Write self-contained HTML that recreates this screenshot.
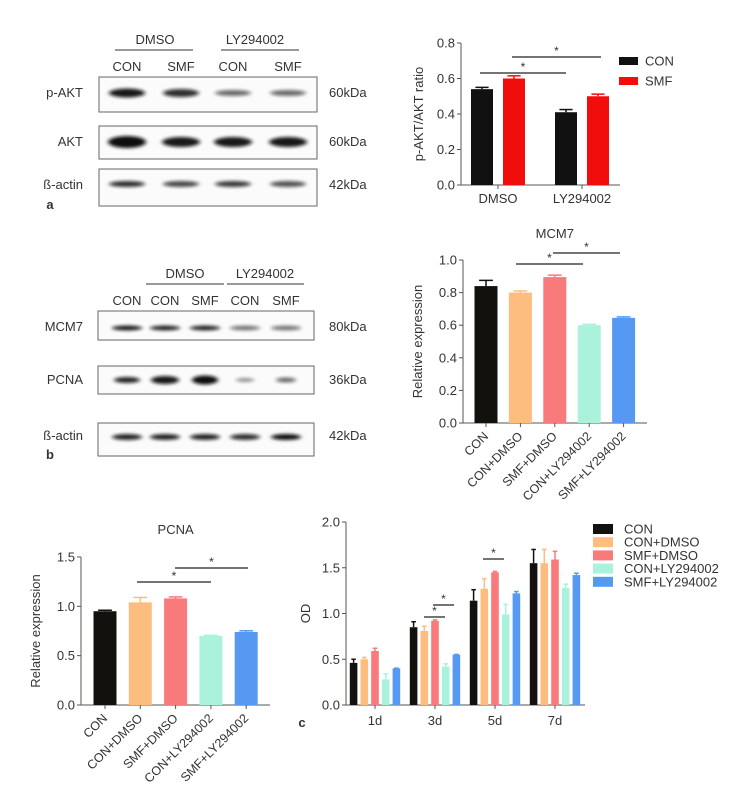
<!DOCTYPE html>
<html><head><meta charset="utf-8"><style>
body{margin:0;background:#fff}
svg{display:block;font-family:"Liberation Sans",sans-serif}
text{fill:#333}
</style></head><body>
<svg id="fig" width="733" height="810" viewBox="0 0 733 810">
<defs>
<filter id="blur" x="-20%" y="-100%" width="140%" height="300%"><feGaussianBlur stdDeviation="2.2 1.6"/></filter>
</defs>
<g id="blots"></g>
<g id="charts"></g>
</svg>
<script>
// ---- data ----
const aGroups=["DMSO","LY294002"];
const aCon=[0.54,0.41];
const aSmf=[0.60,0.50];
const aConErr=[0.01,0.015];
const aSmfErr=[0.015,0.012];
const aTicks=[0,0.2,0.4,0.6,0.8];

const catLabels=["CON","CON+DMSO","SMF+DMSO","CON+LY294002","SMF+LY294002"];
const mcm7Vals=[0.84,0.80,0.895,0.60,0.645];
const mcm7Err=[0.035,0.01,0.012,0.005,0.006];
const mcm7Ticks=[0,0.2,0.4,0.6,0.8,1.0];

const pcnaVals=[0.95,1.04,1.08,0.70,0.74];
const pcnaErr=[0.01,0.05,0.015,0.006,0.012];
const pcnaTicks=[0,0.5,1.0,1.5];

const odDays=["1d","3d","5d","7d"];
const odCon=[0.46,0.85,1.14,1.55];
const odConDmso=[0.50,0.81,1.27,1.55];
const odSmfDmso=[0.59,0.92,1.45,1.59];
const odConLy=[0.28,0.42,0.99,1.28];
const odSmfLy=[0.40,0.55,1.22,1.42];
const odConErr=[0.04,0.06,0.12,0.15];
const odConDmsoErr=[0.02,0.05,0.11,0.15];
const odSmfDmsoErr=[0.03,0.01,0.01,0.09];
const odConLyErr=[0.06,0.03,0.11,0.04];
const odSmfLyErr=[0.003,0.003,0.02,0.02];
const odTicks=[0,0.5,1.0,1.5,2.0];

const COLORS=["#12110d","#fdbd7e","#f87a7a","#aaf2dc","#5599f2"];
const NS="http://www.w3.org/2000/svg";
function mk(parent,tag,attrs,txt){const e=document.createElementNS(NS,tag);for(const k in attrs)e.setAttribute(k,attrs[k]);if(txt!==undefined)e.textContent=txt;parent.appendChild(e);return e;}
const charts=document.getElementById('charts');
const blots=document.getElementById('blots');

function axes(g,x0,y0,x1,yScale,ticks,fmt,title,titleX){
  const yl=mk(g,'line',{x1:x0,y1:y0,x2:x0,y2:yScale(ticks[ticks.length-1]),stroke:'#555','stroke-width':1});
  
  
  const xl=mk(g,'line',{x1:x0,y1:y0,x2:x1,y2:y0,stroke:'#555','stroke-width':1});
  
  
  ticks.forEach(t=>{
    const y=yScale(t);
    mk(g,'line',{x1:x0-4,y1:y,x2:x0,y2:y,stroke:'#555'});
    const tl=mk(g,'text',{x:x0-6,y:y+4.5,'text-anchor':'end','font-size':13},t.toFixed(fmt));
    
    
  });
  const yc=(y0+yScale(ticks[ticks.length-1]))/2;
  const tt=mk(g,'text',{x:titleX,y:yc,'text-anchor':'middle','font-size':13,transform:`rotate(-90 ${titleX} ${yc})`},title);
  
  
}
function bar(g,cx,w,v,err,yScale,y0,color,name){
  const top=yScale(v);
  const r=mk(g,'rect',{x:cx-w/2,y:top,width:w,height:y0-top,fill:color});
  
  
  const et=yScale(v+err);
  mk(g,'line',{x1:cx,y1:top,x2:cx,y2:et,stroke:color,'stroke-width':1.5});
  mk(g,'line',{x1:cx-w*0.3,y1:et,x2:cx+w*0.3,y2:et,stroke:color,'stroke-width':1.5});
}
function sig(g,xa,xb,y){
  const l=mk(g,'line',{x1:xa,y1:y,x2:xb,y2:y,stroke:'#222','stroke-width':1.3});
  
  
  mk(g,'text',{x:(xa+xb)/2,y:y-2,'text-anchor':'middle','font-size':12},'*');
}

// ---- chart a ----
(function(){
  const g=mk(charts,'g',{});
  
  
  const x0=461,y0=185,x1=620,ys=v=>y0-v*177.5;
  axes(g,x0,y0,x1,ys,aTicks,1,'p-AKT/AKT ratio',423);
  aGroups.forEach((gr,i)=>{
    const c=498+i*84;
    bar(g,c-16,22,aCon[i],aConErr[i],ys,y0,'#111','bar-con-'+gr);
    bar(g,c+16,22,aSmf[i],aSmfErr[i],ys,y0,'#f20d0d','bar-smf-'+gr);
    mk(g,'line',{x1:c,y1:y0,x2:c,y2:y0+4,stroke:'#555'});
    const t=mk(g,'text',{x:c,y:y0+18,'text-anchor':'middle','font-size':13},gr);
    
    
  });
  sig(g,480,566,73);sig(g,512,601,57);
  [['CON','#111',61],['SMF','#f20d0d',81]].forEach(([n,c,y])=>{
    const r=mk(g,'rect',{x:619,y:y-4,width:19,height:8,fill:c});
    
    
    const t=mk(g,'text',{x:645,y:y+4.5,'font-size':13},n);
    
    
  });
})();

function fiveBar(name,x0,y0,x1,scale,ticks,fmt,vals,errs,c0,step,w,title,titleX,titleY,sigs){
  const g=mk(charts,'g',{});
  
  
  const ys=v=>y0-v*scale;
  axes(g,x0,y0,x1,ys,ticks,fmt,'Relative expression',titleX);
  vals.forEach((v,i)=>{
    const cx=c0+i*step;
    bar(g,cx,w,v,errs[i],ys,y0,COLORS[i],'bar-'+catLabels[i].toLowerCase().replace('+','-'));
    mk(g,'line',{x1:cx,y1:y0,x2:cx,y2:y0+4,stroke:'#555'});
    const t=mk(g,'text',{x:cx+3,y:y0+14,'text-anchor':'end','font-size':12.5,transform:`rotate(-45 ${cx+3} ${y0+14})`},catLabels[i]);
    
    
  });
  const tt=mk(g,'text',{x:c0+2*step,y:titleY,'text-anchor':'middle','font-size':13},title);
  
  
  sigs.forEach(s=>sig(g,s[0],s[1],s[2]));
}
fiveBar('mcm7-chart',463,423,647,163,mcm7Ticks,1,mcm7Vals,mcm7Err,486,34.4,23,'MCM7',422,238,[[516,583,264],[553,620,253]]);
fiveBar('pcna-chart',81,705,270,98.7,pcnaTicks,1,pcnaVals,pcnaErr,105,35.3,23,'PCNA',40,534,[[137,211,582],[175,248,568]]);

// ---- chart c ----
(function(){
  const g=mk(charts,'g',{});
  
  
  const x0=346,y0=705,x1=585,ys=v=>y0-v*91.5;
  axes(g,x0,y0,x1,ys,odTicks,1,'OD',310);
  const series=[odCon,odConDmso,odSmfDmso,odConLy,odSmfLy];
  const errs=[odConErr,odConDmsoErr,odSmfDmsoErr,odConLyErr,odSmfLyErr];
  odDays.forEach((d,j)=>{
    const c=375+j*60;
    series.forEach((s,i)=>bar(g,c+(i-2)*10.7,7.6,s[j],errs[i][j],ys,y0,COLORS[i],'bar-'+d+'-'+i));
    mk(g,'line',{x1:c,y1:y0,x2:c,y2:y0+4,stroke:'#555'});
    const t=mk(g,'text',{x:c,y:y0+20,'text-anchor':'middle','font-size':13},d);
    
    
  });
  sig(g,424,445,617);sig(g,433,454,605);sig(g,483,504,559);
  catLabels.forEach((n,i)=>{
    const y=529+i*13.2;
    const r=mk(g,'rect',{x:593,y:y-5,width:20,height:10,fill:COLORS[i]});
    
    
    const t=mk(g,'text',{x:624,y:y+4.5,'font-size':13},n);
    
    
  });
})();

// ---- blots ----
function T(x,y,s,anchor,size,weight,name){const t=mk(blots,'text',{x:x,y:y,'text-anchor':anchor||'middle','font-size':size||13,'font-weight':weight||'normal'},s);return t;}
function box(x,y,w,h,name){const r=mk(blots,'rect',{x:x,y:y,width:w,height:h,fill:'#fbfbfb',stroke:'#666','stroke-width':1});}
function band(cx,cy,w,h,op){mk(blots,'ellipse',{cx:cx,cy:cy,rx:w/2,ry:h/2,fill:'#111',opacity:op,filter:'url(#blur)'});}
// a
T(155,44,'DMSO');T(255,44,'LY294002');
mk(blots,'line',{x1:115,y1:50,x2:193,y2:50,stroke:'#333'});
mk(blots,'line',{x1:221,y1:50,x2:299,y2:50,stroke:'#333'});
const laneA=[127,181,233,288];
['CON','SMF','CON','SMF'].forEach((s,i)=>T(laneA[i],71,s));
box(99,77,218,35,'pakt-blot');box(99,126,218,33,'akt-blot');box(99,169,218,37,'actin-blot-a');
[[0.95,9],[0.85,8],[0.6,6],[0.6,6]].forEach((b,i)=>band(laneA[i],93,36,b[1],b[0]));
[[1,12],[0.95,10],[0.95,10],[0.95,10]].forEach((b,i)=>band(laneA[i],142,38,b[1],b[0]));
[[0.85,6],[0.75,6],[0.8,6],[0.7,6]].forEach((b,i)=>band(laneA[i],184,36,b[1],b[0]));
T(83,97,'p-AKT','end');T(83,146,'AKT','end');T(83,189,'ß-actin','end');
T(329,97,'60kDa','start');T(329,146,'60kDa','start');T(329,189,'42kDa','start');
T(50,209,'a','middle',13,'bold','panel-label-a');
// b
T(185,278,'DMSO');T(265,278,'LY294002');
mk(blots,'line',{x1:146,y1:284,x2:224,y2:284,stroke:'#333'});
mk(blots,'line',{x1:227,y1:284,x2:304,y2:284,stroke:'#333'});
const laneB=[127,165,205,245,286];
['CON','CON','SMF','CON','SMF'].forEach((s,i)=>T(laneB[i],305,s));
box(98,311,216,29,'mcm7-blot');box(98,366,216,28,'pcna-blot');box(98,423,216,33,'actin-blot-b');
[0.95,0.9,0.9,0.55,0.55].forEach((o,i)=>band(laneB[i],328,30,5,o));
[[0.9,6,26],[0.95,8,28],[1,9,26],[0.45,4,18],[0.6,5,20]].forEach((b,i)=>band(laneB[i],380,b[2],b[1],b[0]));
[0.9,0.9,0.9,0.85,1].forEach((o,i)=>band(laneB[i],437,30,6,o));
T(83,331,'MCM7','end');T(83,384,'PCNA','end');T(83,440,'ß-actin','end');
T(329,331,'80kDa','start');T(329,384,'36kDa','start');T(329,440,'42kDa','start');
T(50,459,'b','middle',13,'bold','panel-label-b');
T(302,727,'c','middle',13,'bold','panel-label-c');
</script>
</body></html>
